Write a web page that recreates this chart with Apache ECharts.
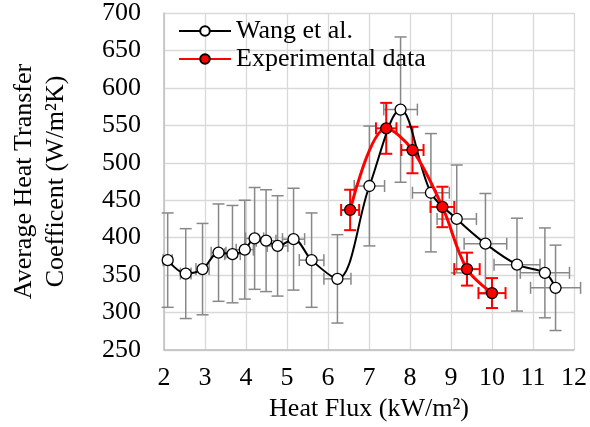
<!DOCTYPE html>
<html><head><meta charset="utf-8">
<script src="https://cdn.jsdelivr.net/npm/echarts@6/dist/echarts.min.js"></script>
<style>html,body{margin:0;padding:0;background:#fff}#c{width:590px;height:427px}</style>
</head><body><div id="c"></div>
<script>
const wangX = [2.09, 2.53, 2.94, 3.33, 3.67, 3.97, 4.21, 4.49, 4.77, 5.16, 5.60, 6.23, 7.01, 7.77, 8.51, 9.14, 9.84, 10.61, 11.29, 11.55];
const wangY = [370, 352, 358, 380, 378, 384, 399, 396, 389, 398, 370, 345, 469, 571, 460, 425, 392, 364, 353, 333];
const wangXErr = [0.11, 0.13, 0.16, 0.18, 0.19, 0.21, 0.22, 0.24, 0.25, 0.27, 0.30, 0.33, 0.37, 0.41, 0.45, 0.48, 0.52, 0.56, 0.60, 0.61];
const wangYErr = [63, 60, 61, 65, 65, 66, 68, 68, 67, 68, 63, 59, 80, 97, 79, 72, 67, 62, 60, 57];
const expX = [6.54, 7.42, 8.06, 8.79, 9.39, 10.00];
const expY = [437, 546, 517, 441, 358, 326];
const expXErr = [0.22, 0.25, 0.27, 0.29, 0.31, 0.33];
const expYErr = [27, 34, 31, 27, 22, 20];

const FONT = '"Liberation Serif", "Times New Roman", serif';
const FS = 26;
const chart = echarts.init(document.getElementById('c'));

function errRender(color, width, cap) {
  return function (params, api) {
    const x = api.value(0), y = api.value(1), ex = api.value(2), ey = api.value(3);
    const top = api.coord([x, y + ey]), bot = api.coord([x, y - ey]);
    const lft = api.coord([x - ex, y]), rgt = api.coord([x + ex, y]);
    const st = {stroke: color, lineWidth: width};
    return {type: 'group', children: [
      {type: 'line', shape: {x1: top[0], y1: top[1], x2: bot[0], y2: bot[1]}, style: st},
      {type: 'line', shape: {x1: top[0] - cap, y1: top[1], x2: top[0] + cap, y2: top[1]}, style: st},
      {type: 'line', shape: {x1: bot[0] - cap, y1: bot[1], x2: bot[0] + cap, y2: bot[1]}, style: st},
      {type: 'line', shape: {x1: lft[0], y1: lft[1], x2: rgt[0], y2: rgt[1]}, style: st},
      {type: 'line', shape: {x1: lft[0], y1: lft[1] - cap, x2: lft[0], y2: lft[1] + cap}, style: st},
      {type: 'line', shape: {x1: rgt[0], y1: rgt[1] - cap, x2: rgt[0], y2: rgt[1] + cap}, style: st}
    ]};
  };
}

const wangData = wangX.map((x, i) => [x, wangY[i]]);
const expData = expX.map((x, i) => [x, expY[i]]);
const wangErr = wangX.map((x, i) => [x, wangY[i], wangXErr[i], wangYErr[i]]);
const expErr = expX.map((x, i) => [x, expY[i], expXErr[i], expYErr[i]]);

chart.setOption({
  animation: false,
  grid: {left: 150, right: 14, top: 13, bottom: 77},
  legend: {
    left: 173, top: 13, orient: 'vertical', itemWidth: 52, itemHeight: 12, itemGap: 2,
    textStyle: {fontFamily: FONT, fontSize: FS, color: '#000', padding: [0, 0, 0, 0]},
    data: ['Wang et al.', 'Experimental data']
  },
  xAxis: {
    type: 'value', min: 2, max: 12, interval: 1,
    name: 'Heat Flux (kW/m²)', nameLocation: 'middle', nameGap: 46,
    nameTextStyle: {fontFamily: FONT, fontSize: FS, color: '#000'},
    axisLine: {show: true, lineStyle: {color: '#bfbfbf', width: 1.5}},
    axisTick: {show: false},
    axisLabel: {fontFamily: FONT, fontSize: FS, color: '#000', margin: 15},
    splitLine: {show: true, lineStyle: {color: '#d9d9d9', width: 1.3}}
  },
  yAxis: {
    type: 'value', min: 250, max: 700, interval: 50,
    name: 'Average Heat Transfer\nCoefficent (W/m²K)', nameLocation: 'middle', nameGap: 92,
    nameTextStyle: {fontFamily: FONT, fontSize: FS, color: '#000', lineHeight: 32},
    axisLine: {show: true, lineStyle: {color: '#bfbfbf', width: 1.5}},
    axisTick: {show: false},
    axisLabel: {fontFamily: FONT, fontSize: FS, color: '#000', margin: 23},
    splitLine: {show: true, lineStyle: {color: '#d9d9d9', width: 1.3}}
  },
  series: [
    {type: 'custom', name: 'wErr', data: wangErr, renderItem: errRender('#888888', 1.5, 6), z: 1, silent: true},
    {type: 'line', name: 'Wang et al.', data: wangData, smooth: 0.35,
     lineStyle: {color: '#000', width: 2}, symbol: 'circle', symbolSize: 11,
     itemStyle: {color: '#fff', borderColor: '#000', borderWidth: 1.3}, z: 3},
    {type: 'custom', name: 'eErr', data: expErr, renderItem: errRender('#ff0000', 2, 6), z: 2, silent: true},
    {type: 'line', name: 'Experimental data', data: expData, smooth: 0.35,
     lineStyle: {color: '#ff0000', width: 3}, symbol: 'circle', symbolSize: 11,
     itemStyle: {color: '#ff0000', borderColor: '#000', borderWidth: 1.3}, z: 4}
  ]
});
</script></body></html>
